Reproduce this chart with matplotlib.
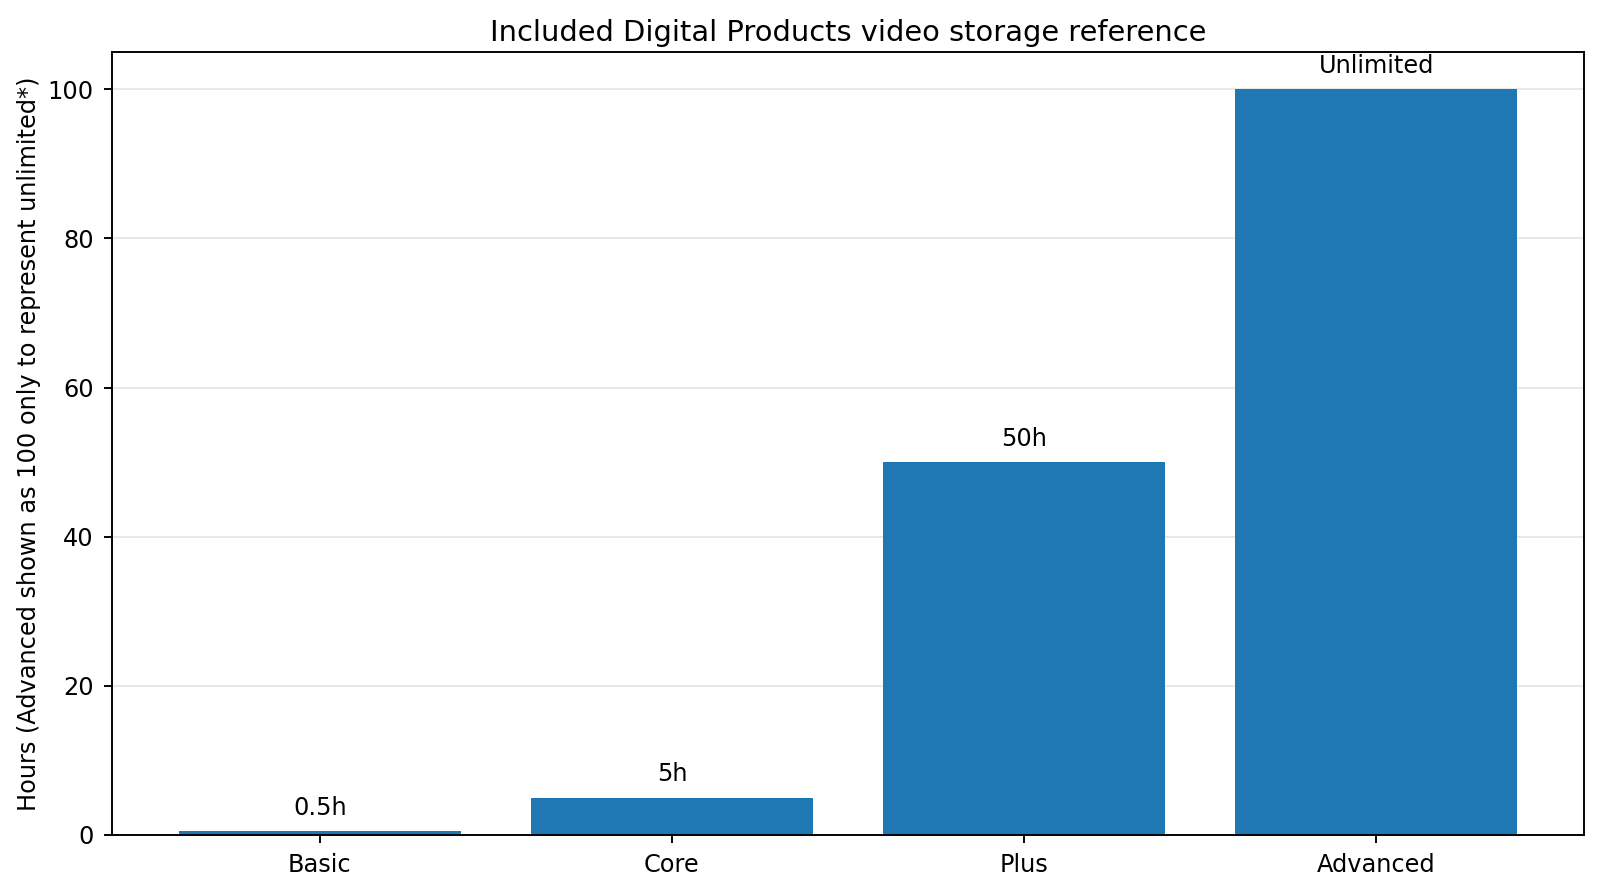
import matplotlib
matplotlib.use("Agg")
import matplotlib.pyplot as plt

plans = ["Basic", "Core", "Plus", "Advanced"]
hours = [0.5, 5, 50, 100]
labels = ["0.5h", "5h", "50h", "Unlimited"]

s = 0.865
plt.rcParams["font.size"] = 10 * s
plt.rcParams["axes.linewidth"] = 0.8 * s
plt.rcParams["xtick.major.width"] = 0.8 * s
plt.rcParams["ytick.major.width"] = 0.8 * s
plt.rcParams["xtick.major.size"] = 3.5 * s
plt.rcParams["ytick.major.size"] = 3.5 * s
plt.rcParams["grid.linewidth"] = 0.8 * s

fig, ax = plt.subplots(figsize=(8, 4.46), dpi=200)
bars = ax.bar(plans, hours, color="#1f77b4")
for b, lab in zip(bars, labels):
    ax.text(b.get_x() + b.get_width() / 2, b.get_height() + 1.5, lab,
            ha="center", va="bottom", fontsize=10 * s)

ax.set_title("Included Digital Products video storage reference", fontsize=12 * s, pad=4)
ax.set_ylabel("Hours (Advanced shown as 100 only to represent unlimited*)", labelpad=2.5)
ax.set_ylim(0, 105)
ax.yaxis.grid(True, alpha=0.3)
ax.set_axisbelow(True)

fig.subplots_adjust(left=0.07, right=0.99, top=0.9417, bottom=0.064)
fig.savefig("out.png", dpi=200)
